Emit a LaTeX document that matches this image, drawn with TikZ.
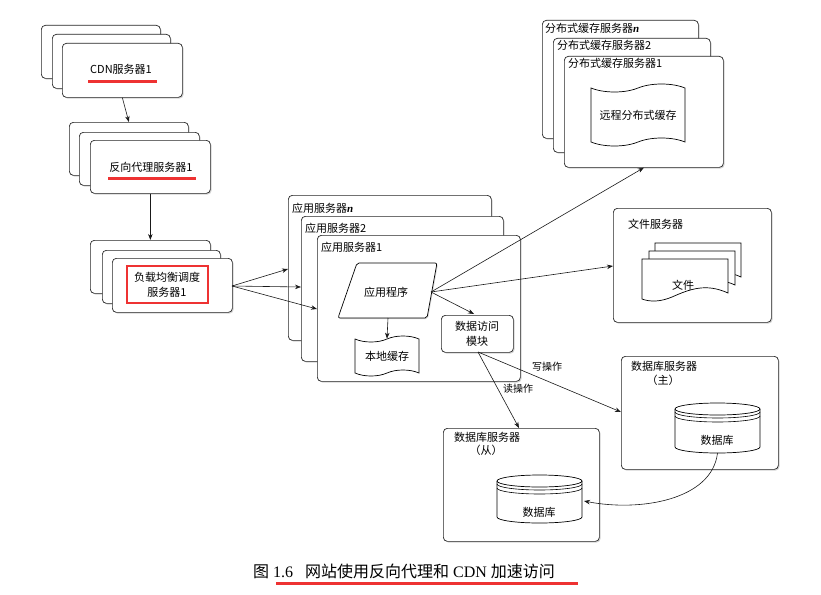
\documentclass[tikz,border=0pt]{standalone}
\usepackage{fontspec}
\setmainfont{Liberation Serif}
\newfontfamily\cjk{Noto Sans CJK SC}
\newfontfamily\serifn{Liberation Serif}
\usetikzlibrary{arrows.meta,shapes.symbols,shadows,calc}
\definecolor{mark}{RGB}{238,50,50}
\newcommand\nvar{{\serifn\bfseries\itshape n}}
\begin{document}
\begin{tikzpicture}[x=1pt,y=-1pt,
  box/.style={draw=black!85, line width=0.7pt, rounded corners=4pt, fill=white,
    anchor=north west, inner sep=0pt,
    drop shadow={shadow xshift=1.2pt,shadow yshift=-1.2pt,opacity=0.35}},
  txt/.style={font=\cjk\fontsize{11}{15}\selectfont, inner sep=0pt, align=center},
  lbl/.style={font=\cjk\fontsize{11}{15}\selectfont, inner sep=0pt, anchor=west},
  small/.style={font=\cjk\fontsize{10}{12}\selectfont, inner sep=0pt},
  arr/.style={-{Stealth[length=6pt,width=4.5pt]}, line width=0.6pt, draw=black!90},
  redline/.style={draw=mark, line width=3pt},
  doc/.pic={\draw[fill=white, line width=0.7pt] (0,0) -- (86,0) -- (86,34)
     .. controls (64,24) and (48,30) .. (30,38)
     .. controls (18,43) and (8,43) .. (0,40) -- cycle;}
]
\useasboundingbox (0,0) rectangle (821,594);
\fill[white] (0,0) rectangle (821,594);

% CDN stack
\node[box, minimum width=119pt, minimum height=53pt] (cdnA) at (41,25) {};
\node[box, minimum width=118pt, minimum height=54pt] (cdnB) at (52,34) {};
\node[box, minimum width=120pt, minimum height=54pt] (cdnC) at (62,43) {};
\node[txt] (cdn) at (121,69) {CDN服务器1};
\draw[redline] (88,81) -- (157,81);

% Reverse proxy stack
\node[box, minimum width=119pt, minimum height=53pt] (rpA) at (69,122) {};
\node[box, minimum width=120pt, minimum height=53pt] (rpB) at (79,132) {};
\node[box, minimum width=120pt, minimum height=53pt] (rpC) at (90,140) {};
\node[txt] (rp) at (151,167) {反向代理服务器1};
\draw[redline] (108,178) -- (196,178);

% Load balancer stack
\node[box, minimum width=120pt, minimum height=53pt] (lbA) at (90,240) {};
\node[box, minimum width=118pt, minimum height=53pt] (lbB) at (102,250) {};
\node[box, minimum width=120pt, minimum height=54pt] (lbC) at (112,258) {};
\node[txt] (lb) at (167,285) {负载均衡调度\\服务器1};
\draw[draw=mark, line width=2.6pt] (127,266) rectangle (208,303);

% App server stack
\node[box, minimum width=203pt, minimum height=145pt] (appA) at (288,195) {};
\node[box, minimum width=202pt, minimum height=145pt] (appB) at (301,216) {};
\node[box, minimum width=203pt, minimum height=146pt] (appC) at (317,235) {};
\node[lbl] (appAl) at (292,208) {应用服务器\nvar};
\node[lbl] (appBl) at (305,228) {应用服务器2};
\node[lbl] (appCl) at (321,247) {应用服务器1};

% application program (parallelogram)
\draw[fill=white, line width=0.7pt, rounded corners=2pt,
  drop shadow={shadow xshift=1pt,shadow yshift=-1pt,opacity=0.3}]
  (357,263) -- (437,263) -- (427,318) -- (338,318) -- cycle;
\node[txt] (prog) at (386,292) {应用程序};
\coordinate (progR) at (431,292);
\coordinate (progB) at (388,318);

% local cache (tape)
\node[tape, draw, line width=0.7pt, fill=white, minimum width=64pt, minimum height=40pt,
  tape bend height=6pt, font=\cjk\fontsize{11}{15}\selectfont] (local) at (387,356) {本地缓存};

% data access module
\node[box, minimum width=72pt, minimum height=37pt] (daBox) at (441,315) {};
\node[txt] (da) at (477,333.5) {数据访问\\模块};

% distributed cache stack
\node[box, minimum width=156pt, minimum height=118pt] (dcA) at (542,20) {};
\node[box, minimum width=157pt, minimum height=114pt] (dcB) at (553,38) {};
\node[box, minimum width=159pt, minimum height=111pt] (dcC) at (564,56) {};
\node[lbl] (dcAl) at (545,28) {分布式缓存服务器\nvar};
\node[lbl] (dcBl) at (557,45) {分布式缓存服务器2};
\node[lbl] (dcCl) at (568,63) {分布式缓存服务器1};
\node[tape, draw, line width=0.7pt, fill=white, minimum width=94pt, minimum height=62pt,
  tape bend height=8pt, font=\cjk\fontsize{11}{15}\selectfont] (remote) at (638,115) {远程分布式缓存};

% file server
\node[box, minimum width=158pt, minimum height=114pt] (fsBox) at (613,208) {};
\node[lbl] (fsl) at (628,224) {文件服务器};
\pic at (655,243) {doc};
\pic at (649,251) {doc};
\pic at (642,259) {doc};
\node[txt] (file) at (683,285) {文件};

% master DB server
\node[box, minimum width=157pt, minimum height=113pt] (dbmBox) at (621,356) {};
\node[lbl] (dbml) at (631,366) {数据库服务器};
\node[txt] (dbmp) at (663,380) {（主）};
\draw[fill=white, line width=0.7pt] (675,409) -- (675,447)
  arc[start angle=180, end angle=360, x radius=42.5pt, y radius=6pt] -- (760,409);
\draw[fill=white, line width=0.7pt] (717.5,409) ellipse[x radius=42.5pt, y radius=6pt];
\draw[line width=0.6pt] (675,412) arc[start angle=180, end angle=360, x radius=42.5pt, y radius=6pt];
\draw[line width=0.6pt] (675,416) arc[start angle=180, end angle=360, x radius=42.5pt, y radius=6pt];
\node[txt] (dbm) at (717,440) {数据库};
\coordinate (dbmB) at (717.5,453);

% slave DB server
\node[box, minimum width=156pt, minimum height=113pt] (dbsBox) at (443,428) {};
\node[lbl] (dbsl) at (454,437) {数据库服务器};
\node[txt] (dbsp) at (486,450) {（从）};
\draw[fill=white, line width=0.7pt] (497,481) -- (497,517)
  arc[start angle=180, end angle=360, x radius=42.5pt, y radius=6pt] -- (582,481);
\draw[fill=white, line width=0.7pt] (539.5,481) ellipse[x radius=42.5pt, y radius=6pt];
\draw[line width=0.6pt] (497,484) arc[start angle=180, end angle=360, x radius=42.5pt, y radius=6pt];
\draw[line width=0.6pt] (497,488) arc[start angle=180, end angle=360, x radius=42.5pt, y radius=6pt];
\node[txt] (dbs) at (539,512) {数据库};
\coordinate (dbsR) at (584,501);

% connectors
\draw[arr] (cdnC.south) -- (rpA.north);
\draw[arr] (rpC.south) -- (lbA.north);
\coordinate (lbOut) at (232,286);
\draw[arr] (lbOut) -- (appA.west |- 0,269);
\draw[arr] (lbOut) -- (appB.west |- 0,287);
\draw[arr] (lbOut) -- (appC.west |- 0,309);
\draw[arr] (progB) -- (local.north);
\draw[arr] (progR) -- (474,314);
\draw[arr] (progR) -- (dcC.south);
\draw[arr] (progR) -- (fsBox.west |- 0,266);
\coordinate (daOut) at (478,352);
\draw[arr] (daOut) -- (dbsBox.north -| 519,0);
\draw[arr] (daOut) -- (dbmBox.west |- 0,412);
\node[small] (wr) at (547,367) {写操作};
\node[small] (rd) at (518,389) {读操作};
\draw[arr] (dbmB) .. controls (712,500) and (640,512) .. (dbsR);

% caption
\node[font=\fontsize{16}{19}\selectfont, anchor=west, inner sep=0pt] (cap) at (253,571)
  {{\cjk 图} 1.6\hspace{12pt}{\cjk 网站使用反向代理和} CDN {\cjk 加速访问}};
\draw[redline] (276,583) -- (578,583);
\end{tikzpicture}
\end{document}
